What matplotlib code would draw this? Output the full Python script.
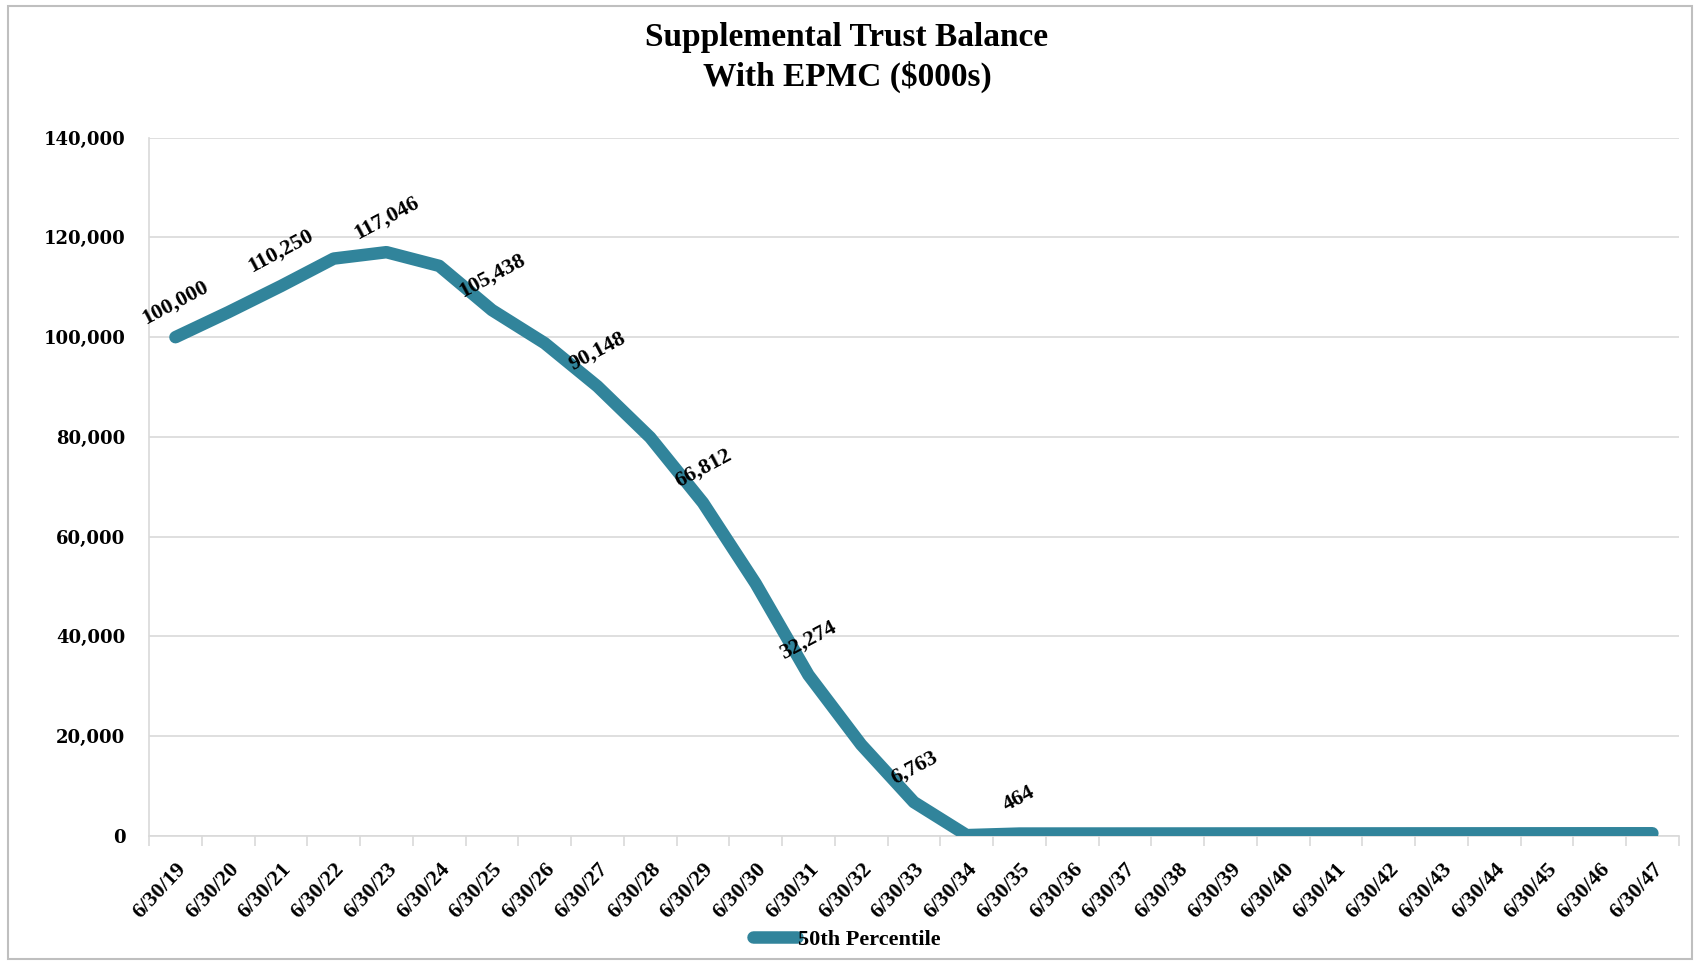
import numpy as np
import matplotlib.pyplot as plt
from matplotlib.patches import Rectangle
from matplotlib.ticker import FuncFormatter

# trust balance by fiscal year end, $000s
dates = ['6/30/%02d' % y for y in range(19, 48)]
balance = [100000, 105000, 110250, 115762, 117046, 114300, 105438, 98800,
           90148, 79900, 66812, 50600, 32274, 18300, 6763, 150, 464, 470,
           475, 480, 485, 490, 495, 500, 505, 510, 515, 520, 525]
labelled = [0, 2, 4, 6, 8, 10, 12, 14, 16]
series_name = '50th Percentile'
title = 'Supplemental Trust Balance\nWith EPMC ($000s)'

teal = '#31849B'
grid = '#D9D9D9'
serif = 'Liberation Serif'

fig = plt.figure(figsize=(16.94, 9.63), dpi=100)
ax = fig.add_axes([0.088, 0.132, 0.903, 0.725])

x = np.arange(len(dates))
ax.plot(x, balance, color=teal, lw=9, solid_capstyle='round',
        solid_joinstyle='round', label=series_name, zorder=3)

for i in labelled:
    ax.annotate(f'{balance[i]:,}', (x[i], balance[i]), xytext=(0, 25),
                textcoords='offset points', ha='center', va='center',
                rotation=28, fontsize=16, fontweight='bold', family=serif,
                zorder=4)

ax.set_xlim(-0.5, len(dates) - 0.5)
ax.set_ylim(0, 140000)
ax.set_yticks(np.arange(0, 140001, 20000))
ax.yaxis.set_major_formatter(FuncFormatter(lambda v, p: f'{int(v):,}'))
ax.grid(axis='y', color=grid, lw=1.2)
ax.set_axisbelow(True)

# category labels at centres, tick marks on the boundaries
ax.set_xticks(x)
ax.set_xticklabels(dates, rotation=47, ha='right', rotation_mode='anchor',
                   fontsize=16, fontweight='bold', family=serif)
ax.set_xticks(np.arange(-0.5, len(dates)), minor=True)
ax.tick_params(axis='x', which='major', length=0, pad=17)
ax.tick_params(axis='x', which='minor', length=7, color=grid, width=1.2)
ax.tick_params(axis='y', length=0, pad=17)
for lab in ax.get_yticklabels():
    lab.set_family('DejaVu Serif')
    lab.set_fontweight('bold')
    lab.set_fontsize(13)

for side in ['top', 'right']:
    ax.spines[side].set_visible(False)
ax.spines['left'].set_color(grid)
ax.spines['bottom'].set_color(grid)
ax.spines['left'].set_linewidth(1.2)
ax.spines['bottom'].set_linewidth(1.2)

fig.text(0.5, 0.94, title, ha='center', va='center', fontsize=24,
         fontweight='bold', family=serif, linespacing=1.3)

fig.legend(loc='center', bbox_to_anchor=(0.5, 0.024), frameon=False,
           handlelength=2.0, handletextpad=0.05,
           prop={'family': serif, 'weight': 'bold', 'size': 16})

fig.patches.append(Rectangle((0.005, 0.004), 0.994, 0.99, transform=fig.transFigure,
                             fill=False, edgecolor='#BFBFBF', lw=1.5))

fig.savefig('out.png', dpi=100)
